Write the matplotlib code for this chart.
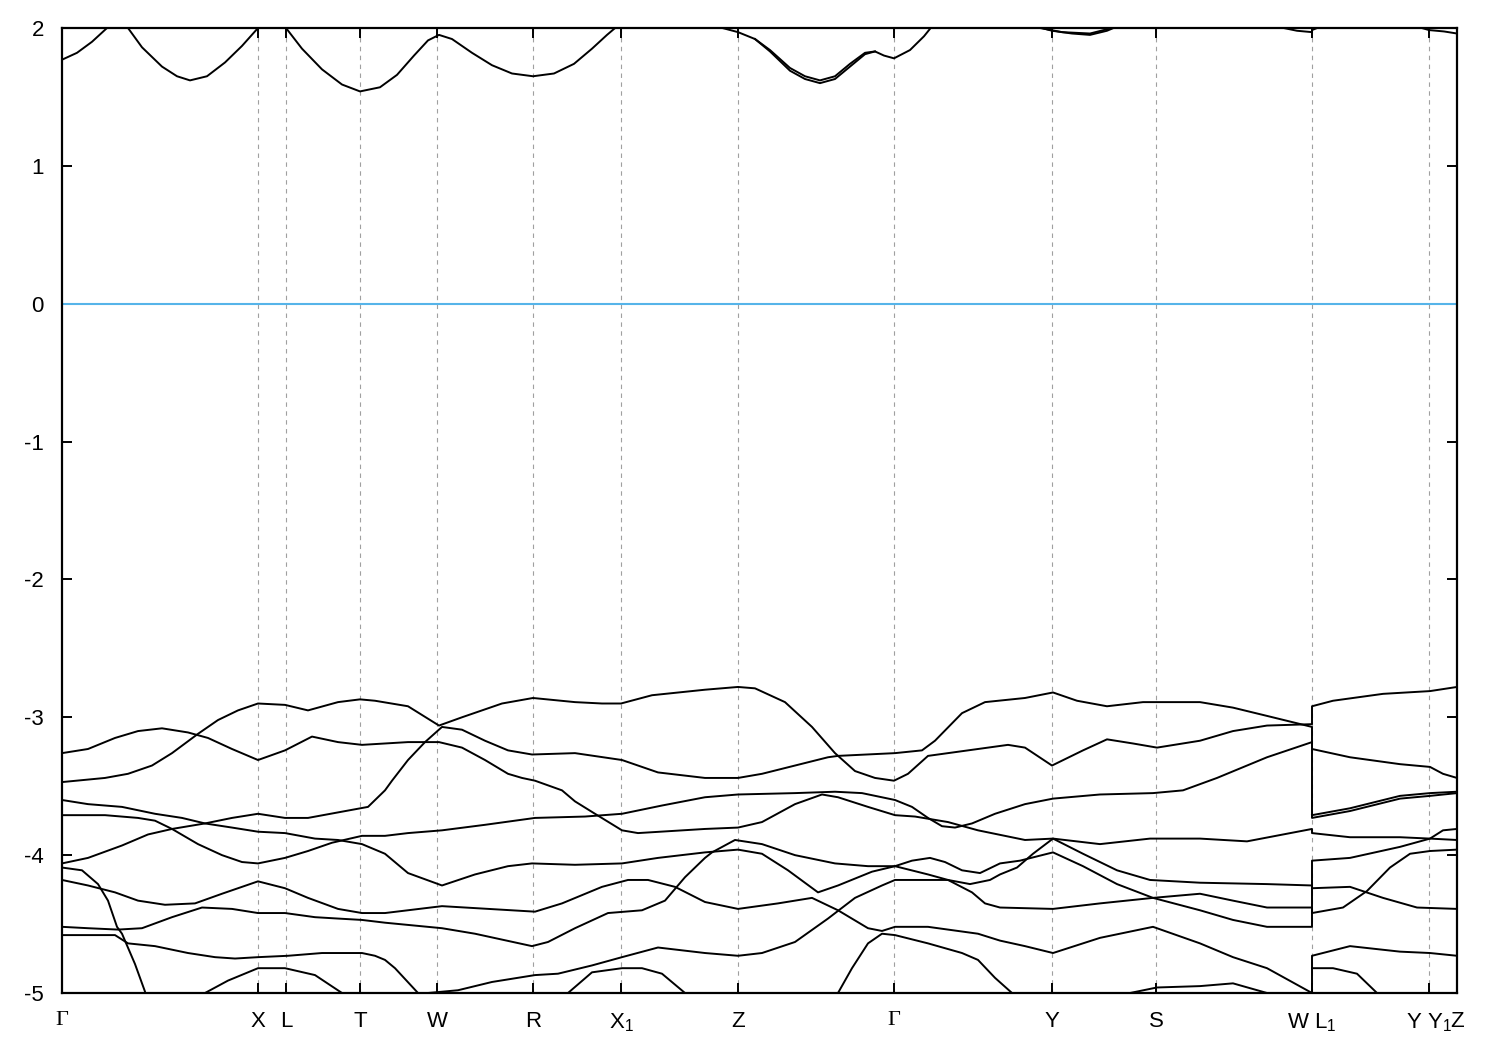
import matplotlib
matplotlib.use("Agg")
import matplotlib.pyplot as plt

plt.rcParams['font.family'] = ['Liberation Sans', 'DejaVu Sans']
plt.rcParams['mathtext.fontset'] = 'custom'
plt.rcParams['mathtext.rm'] = 'Liberation Sans'
plt.rcParams['mathtext.it'] = 'Liberation Sans'
plt.rcParams['axes.unicode_minus'] = False

# high-symmetry points along the k-path (path distance, arbitrary units)
kpoint_pos = [0, 196, 224, 298, 375, 471, 559, 676, 832, 990, 1094, 1250, 1367, 1395]
kpoint_lbl = ['Γ', 'X', 'L', 'T', 'W', 'R', 'X$_1$', 'Z', 'Γ', 'Y', 'S', 'W L$_1$', 'Y Y$_1$', 'Z']

# bands: (k, energy in eV)
cb = [(0, 1.77), (15, 1.82), (30, 1.90), (45, 2.0), (55, 2.05), (66, 2.0), (80, 1.86), (100, 1.72),
      (115, 1.65), (128, 1.62), (145, 1.65), (163, 1.75), (180, 1.87), (196, 2.0), (210, 2.06),
      (224, 2.0), (240, 1.85), (260, 1.70), (280, 1.59), (298, 1.54), (318, 1.57), (335, 1.66),
      (352, 1.80), (366, 1.91), (377, 1.95), (390, 1.92), (410, 1.82), (430, 1.73), (450, 1.67),
      (471, 1.65), (492, 1.67), (512, 1.74), (530, 1.85), (545, 1.95), (558, 2.03), (600, 2.12),
      (650, 2.02), (676, 1.97), (693, 1.92), (708, 1.84), (728, 1.71), (743, 1.65), (758, 1.62),
      (773, 1.65), (788, 1.74), (803, 1.82), (813, 1.83), (822, 1.80), (832, 1.78), (848, 1.84),
      (862, 1.94), (872, 2.03), (930, 2.15), (975, 2.01), (990, 1.98), (1010, 1.96), (1028, 1.95),
      (1045, 1.98), (1058, 2.02), (1150, 2.2), (1215, 2.01), (1235, 1.98), (1250, 1.97),
      (1250, 1.985), (1262, 2.02), (1310, 2.1), (1355, 2.01), (1367, 1.985), (1382, 1.975), (1395, 1.96)]
cb_split = [(693, 1.92), (708, 1.83), (728, 1.69), (743, 1.63), (758, 1.60), (773, 1.63), (788, 1.72),
            (803, 1.81), (813, 1.83)]
cb_split_y = [(978, 2.0), (1000, 1.97), (1028, 1.96), (1050, 2.0)]

band_a = [(0, -3.47), (43, -3.44), (66, -3.41), (90, -3.35), (110, -3.26), (136, -3.12), (156, -3.02),
          (176, -2.95), (196, -2.90), (223, -2.91), (246, -2.95), (276, -2.89), (298, -2.87), (313, -2.88),
          (346, -2.92), (377, -3.06), (400, -3.00), (440, -2.90), (471, -2.86), (513, -2.89), (540, -2.90),
          (559, -2.90), (590, -2.84), (643, -2.80), (676, -2.78), (693, -2.79), (723, -2.89), (750, -3.07),
          (773, -3.26), (793, -3.39), (813, -3.44), (832, -3.46), (846, -3.41), (866, -3.28), (886, -3.26),
          (916, -3.23), (946, -3.20), (963, -3.22), (990, -3.35), (1021, -3.24), (1045, -3.16),
          (1071, -3.19), (1095, -3.22), (1138, -3.17), (1171, -3.10), (1205, -3.06), (1250, -3.05),
          (1250, -2.92), (1271, -2.88), (1321, -2.83), (1368, -2.81), (1395, -2.78)]

band_b = [(0, -3.26), (26, -3.23), (53, -3.15), (76, -3.10), (100, -3.08), (126, -3.11), (146, -3.15),
          (170, -3.23), (196, -3.31), (223, -3.24), (250, -3.14), (276, -3.18), (300, -3.20), (323, -3.19),
          (346, -3.18), (377, -3.18), (400, -3.22), (423, -3.31), (446, -3.41), (460, -3.44), (473, -3.46),
          (500, -3.53), (513, -3.61), (533, -3.70), (560, -3.82), (576, -3.84), (643, -3.81), (676, -3.80),
          (700, -3.76), (733, -3.63), (760, -3.56), (776, -3.58), (806, -3.65), (833, -3.71), (853, -3.72),
          (886, -3.76), (916, -3.82), (963, -3.89), (991, -3.88), (1038, -3.92), (1088, -3.88),
          (1138, -3.88), (1185, -3.90), (1250, -3.81),
          (1250, -3.84), (1288, -3.87), (1338, -3.87), (1368, -3.88), (1395, -3.89)]

band_c = [(0, -3.60), (26, -3.63), (60, -3.65), (93, -3.70), (120, -3.73), (143, -3.77), (170, -3.73),
          (196, -3.70), (223, -3.73), (246, -3.73), (276, -3.69), (306, -3.65), (323, -3.53), (330, -3.46),
          (346, -3.31), (363, -3.18), (380, -3.07), (400, -3.09), (423, -3.17), (446, -3.24), (470, -3.27),
          (513, -3.26), (560, -3.31), (596, -3.40), (643, -3.44), (676, -3.44), (700, -3.41), (733, -3.35),
          (766, -3.29), (776, -3.28), (833, -3.26), (860, -3.24), (873, -3.17), (900, -2.97), (923, -2.89),
          (963, -2.86), (991, -2.82), (1015, -2.88), (1045, -2.92), (1081, -2.89), (1138, -2.89),
          (1171, -2.93), (1205, -2.99), (1250, -3.07),
          (1250, -3.23), (1288, -3.29), (1338, -3.34), (1368, -3.36), (1381, -3.41), (1395, -3.44)]

band_d = [(0, -3.71), (43, -3.71), (76, -3.73), (93, -3.75), (110, -3.81), (136, -3.92), (160, -4.00),
          (180, -4.05), (196, -4.06), (223, -4.02), (246, -3.97), (270, -3.91), (300, -3.86), (323, -3.86),
          (346, -3.84), (380, -3.82), (423, -3.78), (473, -3.73), (523, -3.72), (560, -3.70), (600, -3.64),
          (643, -3.58), (676, -3.56), (733, -3.55), (773, -3.54), (800, -3.55), (833, -3.60), (850, -3.65),
          (866, -3.73), (880, -3.79), (893, -3.80), (910, -3.77), (933, -3.70), (963, -3.63), (991, -3.59),
          (1038, -3.56), (1091, -3.55), (1121, -3.53), (1155, -3.44), (1205, -3.29), (1250, -3.18),
          (1250, -3.73), (1288, -3.68), (1338, -3.59), (1368, -3.57), (1395, -3.55)]
band_d_split_l1 = [(1250, -3.71), (1288, -3.66), (1338, -3.57), (1368, -3.55), (1395, -3.54)]

band_e = [(0, -4.06), (26, -4.02), (60, -3.93), (86, -3.85), (110, -3.81), (143, -3.77), (170, -3.80),
          (196, -3.83), (223, -3.84), (253, -3.88), (276, -3.89), (300, -3.92), (323, -3.99), (346, -4.13),
          (380, -4.22), (413, -4.14), (446, -4.08), (470, -4.06), (513, -4.07), (560, -4.06), (596, -4.02),
          (643, -3.98), (676, -3.96), (700, -3.99), (726, -4.11), (756, -4.27), (776, -4.22), (810, -4.12),
          (833, -4.08), (850, -4.04), (868, -4.02), (883, -4.05), (900, -4.11), (918, -4.13), (938, -4.06),
          (958, -4.04), (991, -3.98), (1021, -4.08), (1055, -4.21), (1091, -4.31), (1138, -4.40),
          (1171, -4.47), (1205, -4.52), (1250, -4.52),
          (1250, -4.04), (1288, -4.02), (1338, -3.94), (1368, -3.88), (1381, -3.82), (1395, -3.81)]

band_f = [(0, -4.09), (20, -4.11), (36, -4.21), (46, -4.33), (55, -4.52), (60, -4.57), (73, -4.79),
          (83, -4.99), (86, -5.1)]

band_g = [(0, -4.18), (26, -4.22), (53, -4.27), (76, -4.33), (103, -4.36), (133, -4.35), (160, -4.28),
          (180, -4.23), (196, -4.19), (223, -4.24), (246, -4.31), (276, -4.39), (300, -4.42), (323, -4.42),
          (380, -4.37), (473, -4.41), (500, -4.35), (540, -4.23), (566, -4.18), (586, -4.18), (613, -4.23),
          (643, -4.34), (676, -4.39), (716, -4.35), (750, -4.31), (776, -4.40), (806, -4.53), (820, -4.55),
          (833, -4.52), (866, -4.52), (916, -4.57), (938, -4.62), (963, -4.66), (991, -4.71), (1038, -4.60),
          (1091, -4.52), (1138, -4.64), (1171, -4.74), (1205, -4.82), (1250, -5.0),
          (1250, -4.73), (1288, -4.66), (1338, -4.70), (1368, -4.71), (1395, -4.73)]

band_h = [(0, -4.52), (26, -4.53), (56, -4.54), (80, -4.53), (110, -4.45), (140, -4.38), (170, -4.39),
          (196, -4.42), (223, -4.42), (253, -4.45), (276, -4.46), (300, -4.47), (323, -4.49), (380, -4.53),
          (413, -4.57), (470, -4.66), (486, -4.63), (513, -4.53), (546, -4.42), (580, -4.40), (603, -4.33),
          (623, -4.16), (643, -4.02), (650, -3.98), (673, -3.89), (700, -3.92), (733, -4.00), (773, -4.06),
          (806, -4.08), (833, -4.08), (866, -4.14), (886, -4.18), (910, -4.27), (923, -4.35), (938, -4.38),
          (991, -4.39), (1038, -4.35), (1091, -4.31), (1138, -4.28), (1171, -4.33), (1205, -4.38),
          (1250, -4.38),
          (1250, -4.42), (1281, -4.38), (1305, -4.26), (1328, -4.09), (1348, -3.99), (1368, -3.97), (1395, -3.96)]

band_i = [(0, -4.58), (53, -4.58), (66, -4.64), (93, -4.66), (126, -4.71), (153, -4.74), (173, -4.75),
          (196, -4.74), (226, -4.73), (260, -4.71), (300, -4.71), (313, -4.73), (323, -4.76), (333, -4.82),
          (356, -5.0), (360, -5.05)]

band_j = [(366, -5.0), (396, -4.98), (430, -4.92), (473, -4.87), (496, -4.86), (530, -4.80), (560, -4.74),
          (596, -4.67), (643, -4.71), (676, -4.73), (700, -4.71), (733, -4.63), (766, -4.46), (793, -4.31),
          (820, -4.22), (833, -4.18), (866, -4.18), (886, -4.18), (908, -4.21), (928, -4.18), (938, -4.14),
          (955, -4.09), (971, -3.99), (991, -3.88), (1021, -3.99), (1055, -4.11), (1088, -4.18),
          (1138, -4.20), (1205, -4.21), (1250, -4.22),
          (1250, -4.24), (1288, -4.23), (1321, -4.31), (1355, -4.38), (1395, -4.39)]

arc_x = [(143, -5.0), (166, -4.91), (196, -4.82), (223, -4.82), (253, -4.87), (280, -5.0)]
arc_x1 = [(506, -5.0), (530, -4.85), (560, -4.82), (580, -4.82), (600, -4.86), (623, -5.0)]
arc_gamma = [(776, -5.0), (790, -4.82), (806, -4.64), (820, -4.57), (833, -4.58), (866, -4.64),
             (900, -4.71), (916, -4.76), (933, -4.89), (950, -5.0)]
arc_s = [(1068, -5.0), (1095, -4.96), (1138, -4.95), (1171, -4.93), (1205, -5.0)]
arc_l1 = [(1250, -4.82), (1271, -4.82), (1295, -4.86), (1315, -5.0)]

all_bands = [cb, cb_split, cb_split_y, band_a, band_b, band_c, band_d, band_d_split_l1,
             band_e, band_f, band_g, band_h, band_i, band_j, arc_x, arc_x1, arc_gamma, arc_s, arc_l1]

fig = plt.figure(figsize=(15, 10.5), dpi=100)
ax = fig.add_axes([62 / 1500, 57 / 1050, 1395 / 1500, 965 / 1050])

# dashed guides at the inner high-symmetry points
for k in kpoint_pos[1:-1]:
    ax.axvline(k, color='#a0a0a0', lw=0.8, ls=(0, (4, 4)), zorder=1)

# Fermi level
ax.axhline(0, color='#56b4e9', lw=1.5, zorder=2)

for band in all_bands:
    ks = [p[0] for p in band]
    es = [p[1] for p in band]
    ax.plot(ks, es, color='black', lw=1.4, zorder=3, solid_joinstyle='round')

ax.set_xlim(kpoint_pos[0], kpoint_pos[-1])
ax.set_ylim(-5, 2)
ax.set_yticks(range(-5, 3))
ax.set_yticklabels([str(v) for v in range(-5, 3)], fontsize=16)
ax.set_xticks(kpoint_pos)
ax.set_xticklabels(kpoint_lbl, fontsize=16)
for lbl in ax.get_xticklabels():
    if lbl.get_text() == 'Γ':
        lbl.set_family(['Liberation Serif', 'DejaVu Serif'])
ax.tick_params(direction='in', length=7, width=1.4, top=True, right=True)
ax.tick_params(axis='x', pad=13)
ax.tick_params(axis='y', pad=13)
for s in ax.spines.values():
    s.set_linewidth(1.6)

plt.savefig('out.png', dpi=100)
plt.close()
